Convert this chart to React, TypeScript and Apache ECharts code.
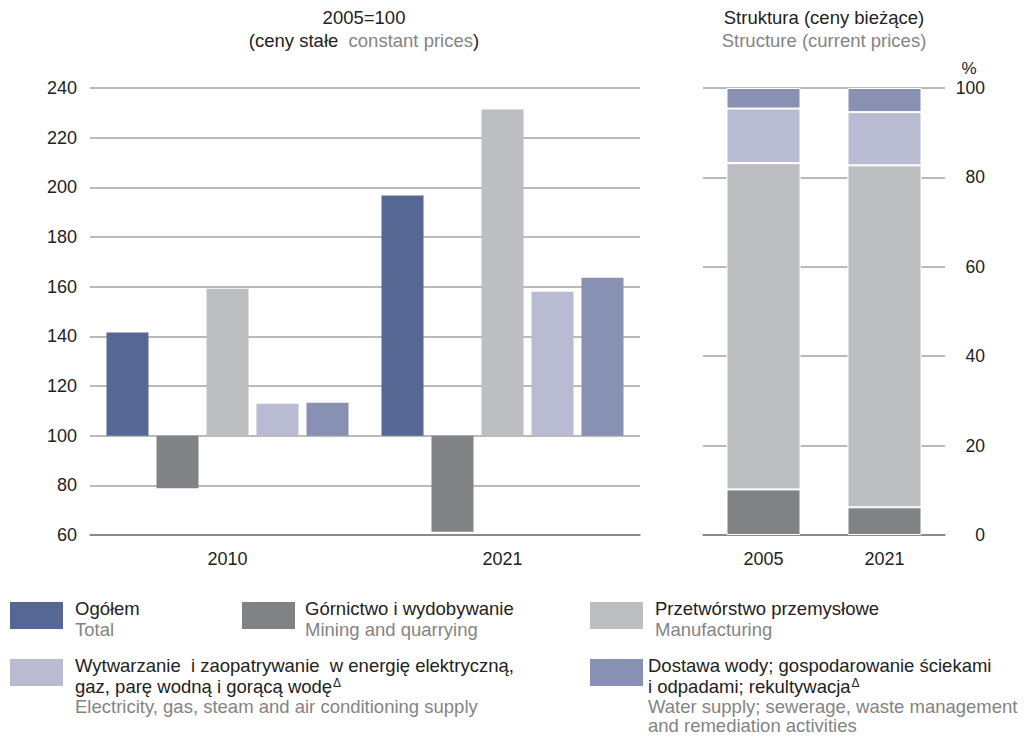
import React, { useEffect, useRef } from "react";
import * as echarts from "echarts";

// ---- Data ----
const BASE = 100;
const indexYears = ["2010", "2021"];
const totalIdx = [141.5, 196.7];
const miningIdx = [78.8, 61.3];
const manufacturingIdx = [159.2, 231.3];
const electricityIdx = [112.9, 158.0];
const waterIdx = [113.3, 163.6];

const structYears = ["2005", "2021"];
const structMining = [10.2, 6.2];
const structManufacturing = [73.0, 76.5];
const structElectricity = [12.2, 11.9];
const structWater = [4.6, 5.4];

const COLORS = {
  total: "#576793",
  mining: "#818285",
  manufacturing: "#bdbec1",
  electricity: "#b9bbd2",
  water: "#8890b3",
};

const FONT = "'Liberation Sans', Arial, sans-serif";
const DARK = "#222222";
const GREY = "#848484";
const FS = 18.5;

export default function App() {
  const ref = useRef<HTMLDivElement>(null);

  useEffect(() => {
    document.body.style.margin = "0";
    if (!ref.current) return;
    const chart = echarts.init(ref.current, undefined, { renderer: "svg" });

    const shift = (arr: number[]) => arr.map((v) => +(v - BASE).toFixed(2));
    const gridLine = { lineStyle: { color: "#a3a3a3", width: 1.5 } };

    const leftBar = (name: string, data: number[], color: string) => ({
      name,
      type: "bar",
      xAxisIndex: 0,
      yAxisIndex: 0,
      data: shift(data),
      barGap: "19%",
      barCategoryGap: "12%",
      itemStyle: { color },
    });
    const rightBar = (name: string, data: number[], color: string) => ({
      name,
      type: "bar",
      xAxisIndex: 1,
      yAxisIndex: 1,
      stack: "s",
      data,
      barWidth: 74,
      itemStyle: { color, borderColor: "#ffffff", borderWidth: 1 },
    });

    const txt = (text: string, x: number, y: number, color: string, align = "left", size = FS) => ({
      type: "text",
      x,
      y,
      style: { text, fill: color, font: `${size}px ${FONT}`, align, verticalAlign: "middle" },
    });
    const rect = (x: number, y: number, color: string) => ({
      type: "rect",
      shape: { x, y, width: 53, height: 27 },
      style: { fill: color },
    });

    const option: any = {
      animation: false,
      textStyle: { fontFamily: FONT },
      grid: [
        { left: 90, top: 88, width: 550, height: 447 },
        { left: 703, top: 88, width: 242, height: 447 },
      ],
      xAxis: [
        {
          type: "category",
          gridIndex: 0,
          data: indexYears,
          axisTick: { show: false },
          axisLine: { onZero: false, lineStyle: { color: "#7a7a7a", width: 1.5 } },
          axisLabel: { color: DARK, fontSize: 18, margin: 15, fontFamily: FONT },
        },
        {
          type: "category",
          gridIndex: 1,
          data: structYears,
          axisTick: { show: false },
          axisLine: { onZero: false, lineStyle: { color: "#7a7a7a", width: 1.5 } },
          axisLabel: { color: DARK, fontSize: 18, margin: 15, fontFamily: FONT },
        },
      ],
      yAxis: [
        {
          type: "value",
          gridIndex: 0,
          min: 60 - BASE,
          max: 240 - BASE,
          interval: 20,
          axisLine: { show: false },
          axisTick: { show: false },
          splitLine: gridLine,
          axisLabel: {
            color: DARK,
            fontSize: 18,
            margin: 13,
            fontFamily: FONT,
            formatter: (v: number) => String(v + BASE),
          },
        },
        {
          type: "value",
          gridIndex: 1,
          position: "right",
          min: 0,
          max: 100,
          interval: 20,
          axisLine: { show: false },
          axisTick: { show: false },
          splitLine: gridLine,
          axisLabel: { color: DARK, fontSize: 17.5, margin: 40, align: "right", fontFamily: FONT },
        },
      ],
      series: [
        leftBar("Ogółem", totalIdx, COLORS.total),
        leftBar("Górnictwo i wydobywanie", miningIdx, COLORS.mining),
        leftBar("Przetwórstwo przemysłowe", manufacturingIdx, COLORS.manufacturing),
        leftBar("Wytwarzanie", electricityIdx, COLORS.electricity),
        leftBar("Dostawa wody", waterIdx, COLORS.water),
        rightBar("Górnictwo i wydobywanie", structMining, COLORS.mining),
        rightBar("Przetwórstwo przemysłowe", structManufacturing, COLORS.manufacturing),
        rightBar("Wytwarzanie", structElectricity, COLORS.electricity),
        rightBar("Dostawa wody", structWater, COLORS.water),
      ],
      graphic: [
        // titles
        txt("2005=100", 364, 17, DARK, "center"),
        {
          type: "text",
          x: 364,
          y: 40,
          style: {
            text: "{a|(ceny stałe  }{b|constant prices}{a|)}",
            align: "center",
            verticalAlign: "middle",
            rich: {
              a: { fill: DARK, fontSize: FS, fontFamily: FONT },
              b: { fill: GREY, fontSize: FS, fontFamily: FONT },
            },
          },
        },
        txt("Struktura (ceny bieżące)", 824, 17, DARK, "center"),
        txt("Structure (current prices)", 824, 40, GREY, "center"),
        txt("%", 969, 68, DARK, "center", 17),
        // legend
        rect(10, 602, COLORS.total),
        txt("Ogółem", 75, 608, DARK),
        txt("Total", 75, 629, GREY),
        rect(242, 602, COLORS.mining),
        txt("Górnictwo i wydobywanie", 305, 608, DARK),
        txt("Mining and quarrying", 305, 629, GREY),
        rect(590, 602, COLORS.manufacturing),
        txt("Przetwórstwo przemysłowe", 655, 608, DARK),
        txt("Manufacturing", 655, 629, GREY),
        rect(10, 659, COLORS.electricity),
        txt("Wytwarzanie  i zaopatrywanie  w energię elektryczną,", 75, 665, DARK),
        {
          type: "text",
          x: 75,
          y: 686,
          style: {
            text: "{a|gaz, parę wodną i gorącą wodę}{s|Δ}",
            verticalAlign: "middle",
            rich: {
              a: { fill: DARK, fontSize: FS, fontFamily: FONT },
              s: { fill: DARK, fontSize: 12, fontFamily: FONT, verticalAlign: "top", padding: [0, 0, 0, 1] },
            },
          },
        },
        txt("Electricity, gas, steam and air conditioning supply", 75, 706, GREY),
        rect(590, 659, COLORS.water),
        txt("Dostawa wody; gospodarowanie ściekami", 648, 665, DARK),
        {
          type: "text",
          x: 648,
          y: 686,
          style: {
            text: "{a|i odpadami; rekultywacja}{s|Δ}",
            verticalAlign: "middle",
            rich: {
              a: { fill: DARK, fontSize: FS, fontFamily: FONT },
              s: { fill: DARK, fontSize: 12, fontFamily: FONT, verticalAlign: "top", padding: [0, 0, 0, 1] },
            },
          },
        },
        txt("Water supply; sewerage, waste management", 648, 706, GREY),
        txt("and remediation activities", 648, 725, GREY),
      ],
    };

    chart.setOption(option);
    return () => chart.dispose();
  }, []);

  return <div ref={ref} style={{ width: 1032, height: 737 }} />;
}
